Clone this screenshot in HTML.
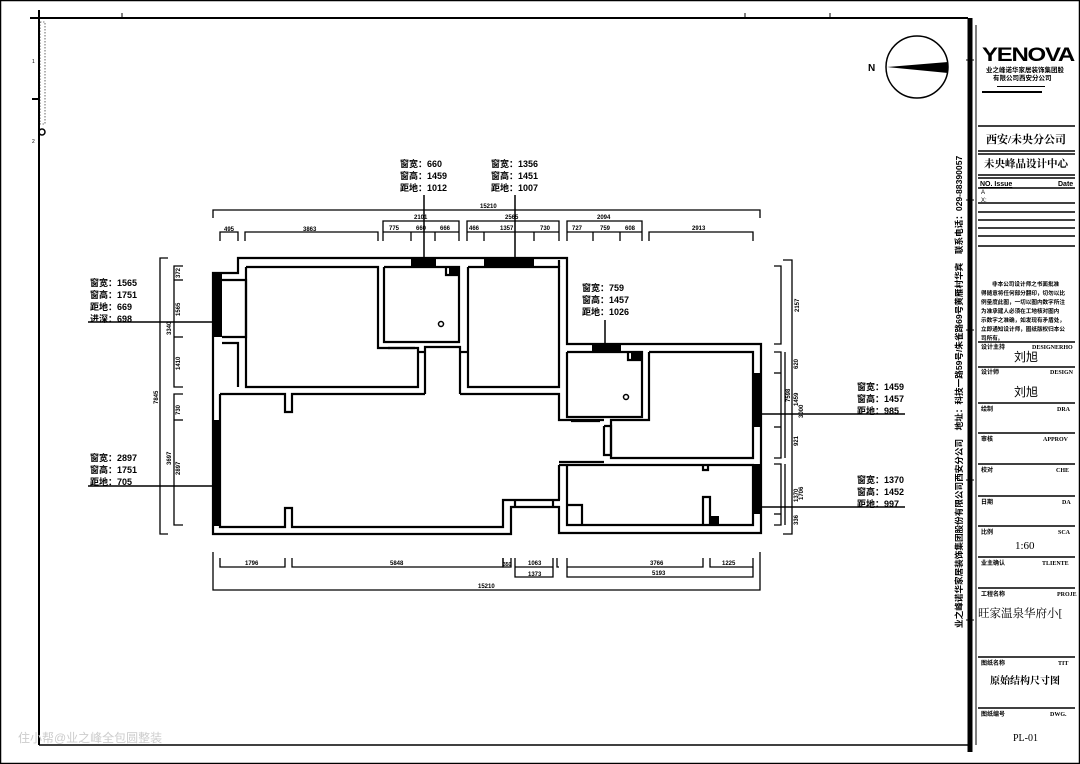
<!DOCTYPE html>
<html><head><meta charset="utf-8"><style>
body{margin:0;background:#fff}
svg{display:block}
text{font-family:"Liberation Sans","Noto Sans CJK SC",sans-serif;fill:#000}
.s{font-family:"Liberation Serif","Noto Serif CJK SC",serif}
</style></head><body>
<svg width="1080" height="764" viewBox="0 0 1080 764" xmlns="http://www.w3.org/2000/svg">
<rect x="0.5" y="0.5" width="1079" height="763" fill="#fff" stroke="#000" stroke-width="1.5"/>
<g stroke="#000" fill="none">
<line x1="30" y1="18" x2="968" y2="18" stroke-width="2"/>
<line x1="39" y1="10" x2="39" y2="745" stroke-width="2"/>
<line x1="39" y1="745" x2="968" y2="745" stroke-width="1.5"/>
<line x1="970" y1="18" x2="970" y2="752" stroke-width="5"/>
<line x1="976" y1="25" x2="976" y2="745" stroke-width="1"/>
<line x1="32" y1="99" x2="39" y2="99" stroke-width="2"/>
<circle cx="42" cy="132" r="3" stroke-width="1.5"/>
<line x1="122" y1="13" x2="122" y2="18"/><line x1="745" y1="13" x2="745" y2="18"/><line x1="830" y1="13" x2="830" y2="18"/>
<line x1="966" y1="60" x2="974" y2="60"/><line x1="966" y1="200" x2="974" y2="200"/><line x1="966" y1="330" x2="974" y2="330"/><line x1="966" y1="480" x2="974" y2="480"/><line x1="966" y1="620" x2="974" y2="620"/>
</g>
<rect x="40" y="22" width="5" height="102" fill="none" stroke="#000" stroke-width="0.6" stroke-dasharray="1.5 1.5"/>
<text x="32" y="63" font-size="5">1</text><text x="32" y="143" font-size="5">2</text>
<circle cx="917" cy="67" r="31" fill="none" stroke="#000" stroke-width="1.5"/>
<polygon points="887,67 948,62 948,73" fill="#000"/>
<text x="868" y="71" font-size="10" font-weight="bold">N</text>

<g fill="none" stroke="#000" stroke-width="2.2">
<polyline points="567,260 567,258 238,258 238,273 213,273 213,534 511,534 511,507 559,507 559,533 761,533 761,344 567,344 567,260"/>
<polyline points="222,280 246,280 246,337 222,337"/>
<polyline points="222,343 238,343 238,387"/>
<polyline points="246,267 378,267 378,348 418,348 418,387 246,387 246,267"/>
<polyline points="384,267 459,267 459,342 384,342 384,267"/>
<polyline points="388,348 415,348"/>
<polyline points="425,394 425,347 460,347 460,394"/>
<polyline points="419,352 425,352"/><polyline points="460,352 468,352"/>
<polyline points="468,267 559,267 559,387 468,387 468,267"/>
<polyline points="559,260 559,267"/>
<polyline points="220,394 220,527 285,527 285,508 292,508 292,527 503,527 503,500 560,500"/>
<polyline points="220,394 285,394 285,412 292,412 292,394 425,394"/>
<polyline points="460,394 559,394 559,420 604,420"/>
<polyline points="515,500 515,507"/><polyline points="553,500 553,507"/>
<polyline points="559,465 559,500"/>
<polyline points="567,352 642,352 642,417 567,417 567,352"/>
<polyline points="571,421 600,421"/>
<polyline points="604,426 604,455 611,455 611,426 604,426"/>
<polyline points="649,352 753,352 753,458 611,458 611,420 649,420 649,352"/>
<polyline points="559,465 753,465 753,525 567,525 567,465"/>
<polyline points="559,462 604,462"/>
<polyline points="567,505 582,505 582,525"/>
<polyline points="703,465 703,470 708,470 708,465"/>
<polyline points="703,525 703,497 710,497 710,525"/>
<polyline points="446,267 446,275 459,275"/>
<polyline points="628,352 628,360 642,360"/>
</g>
<g fill="#000">
<rect x="449" y="267" width="10" height="7"/>
<rect x="631" y="352" width="11" height="7"/>
<rect x="710" y="516" width="9" height="9"/>
<rect x="213" y="273" width="9" height="64"/>
<rect x="213" y="420" width="8" height="106"/>
<rect x="411" y="258" width="25" height="9"/>
<rect x="484" y="258" width="50" height="9"/>
<rect x="592" y="344" width="29" height="8"/>
<rect x="753" y="373" width="8" height="54"/>
<rect x="753" y="464" width="8" height="50"/>
</g>
<circle cx="441" cy="324" r="2.5" fill="none" stroke="#000" stroke-width="1.5"/>
<circle cx="626" cy="397" r="2.5" fill="none" stroke="#000" stroke-width="1.5"/>

<g stroke="#000" stroke-width="1.5" fill="none">
<line x1="424" y1="195" x2="424" y2="258"/>
<line x1="515" y1="195" x2="515" y2="258"/>
<line x1="605" y1="320" x2="605" y2="344"/>
<line x1="88" y1="322" x2="213" y2="322"/>
<line x1="88" y1="486" x2="213" y2="486"/>
<line x1="761" y1="414" x2="905" y2="414"/>
<line x1="761" y1="507" x2="905" y2="507"/>
</g>
<g font-size="9" font-weight="bold">
<text x="400" y="167">窗宽：660</text><text x="400" y="179">窗高：1459</text><text x="400" y="191">距地：1012</text>
<text x="491" y="167">窗宽：1356</text><text x="491" y="179">窗高：1451</text><text x="491" y="191">距地：1007</text>
<text x="582" y="291">窗宽：759</text><text x="582" y="303">窗高：1457</text><text x="582" y="315">距地：1026</text>
<text x="90" y="286">窗宽：1565</text><text x="90" y="298">窗高：1751</text><text x="90" y="310">距地：669</text><text x="90" y="322">进深：698</text>
<text x="90" y="461">窗宽：2897</text><text x="90" y="473">窗高：1751</text><text x="90" y="485">距地：705</text>
<text x="857" y="390">窗宽：1459</text><text x="857" y="402">窗高：1457</text><text x="857" y="414">距地：985</text>
<text x="857" y="483">窗宽：1370</text><text x="857" y="495">窗高：1452</text><text x="857" y="507">距地：997</text>
</g>

<g stroke="#000" stroke-width="1.3" fill="none">
<polyline points="213,218 213,210 760,210 760,218"/>
<polyline points="220,241 220,232 238,232 238,241"/>
<polyline points="245,241 245,232 378,232 378,241"/>
<polyline points="383,241 383,221 459,221 459,241"/><polyline points="383,232 459,232"/>
<line x1="411" y1="232" x2="411" y2="241"/><line x1="435" y1="232" x2="435" y2="241"/>
<polyline points="467,241 467,221 559,221 559,241"/><polyline points="467,232 559,232"/>
<line x1="484" y1="232" x2="484" y2="241"/><line x1="534" y1="232" x2="534" y2="241"/>
<polyline points="567,241 567,221 642,221 642,241"/><polyline points="567,232 642,232"/>
<line x1="593" y1="232" x2="593" y2="241"/><line x1="620" y1="232" x2="620" y2="241"/>
<polyline points="649,241 649,232 753,232 753,241"/>
<polyline points="213,552 213,590 760,590 760,552"/>
<polyline points="220,558 220,567 285,567 285,558"/>
<polyline points="292,558 292,567 503,567 503,558"/>
<polyline points="503,558 503,567 511,567 511,558"/>
<polyline points="515,558 515,577 553,577 553,558"/><polyline points="515,567 553,567"/>
<polyline points="557,558 557,567 559,567"/>
<polyline points="567,558 567,577 753,577 753,558"/><polyline points="567,567 703,567 703,558"/>
<polyline points="710,558 710,567 753,567"/>
<polyline points="168,258 160,258 160,534 168,534"/>
<polyline points="183,266 174,266 174,387 183,387"/>
<line x1="174" y1="280" x2="183" y2="280"/><line x1="174" y1="337" x2="183" y2="337"/>
<polyline points="183,394 174,394 174,525 183,525"/>
<line x1="174" y1="420" x2="183" y2="420"/>
<polyline points="783,260 792,260 792,534 783,534"/>
<polyline points="774,266 781,266 781,344 774,344"/>
<polyline points="774,352 781,352 781,458 774,458"/><polyline points="785,352 785,458"/>
<line x1="774" y1="373" x2="781" y2="373"/><line x1="774" y1="427" x2="781" y2="427"/>
<polyline points="774,464 781,464 781,525 774,525"/><polyline points="785,464 785,525"/>
<line x1="774" y1="514" x2="781" y2="514"/>
</g>
<g font-size="6" font-weight="bold">
<text x="480" y="208">15210</text>
<text x="224" y="231">495</text><text x="303" y="231">3863</text>
<text x="414" y="219">2101</text><text x="389" y="230">775</text><text x="416" y="230">660</text><text x="440" y="230">666</text>
<text x="505" y="219">2565</text><text x="469" y="230">466</text><text x="500" y="230">1357</text><text x="540" y="230">730</text>
<text x="597" y="219">2094</text><text x="572" y="230">727</text><text x="600" y="230">759</text><text x="625" y="230">608</text>
<text x="692" y="230">2913</text>
<text x="245" y="565">1796</text><text x="390" y="565">5848</text><text x="503" y="566" font-size="5">350</text><text x="528" y="565">1063</text>
<text x="528" y="576">1373</text><text x="650" y="565">3766</text><text x="722" y="565">1225</text><text x="652" y="575">5193</text>
<text x="478" y="588">15210</text>
</g>
<g font-size="6" font-weight="bold">
<text transform="translate(158,404) rotate(-90)">7845</text>
<text transform="translate(171,335) rotate(-90)">3340</text>
<text transform="translate(180,278) rotate(-90)">372</text>
<text transform="translate(180,316) rotate(-90)">1565</text>
<text transform="translate(180,370) rotate(-90)">1410</text>
<text transform="translate(180,415) rotate(-90)">730</text>
<text transform="translate(171,465) rotate(-90)">3697</text>
<text transform="translate(180,475) rotate(-90)">2897</text>
<text transform="translate(799,312) rotate(-90)">2157</text>
<text transform="translate(790,402) rotate(-90)">7598</text>
<text transform="translate(798,369) rotate(-90)">620</text>
<text transform="translate(798,406) rotate(-90)">1459</text>
<text transform="translate(803,418) rotate(-90)">3000</text>
<text transform="translate(798,446) rotate(-90)">921</text>
<text transform="translate(798,502) rotate(-90)">1370</text>
<text transform="translate(803,500) rotate(-90)">1706</text>
<text transform="translate(798,525) rotate(-90)">336</text>
</g>

<text transform="translate(962,628) rotate(-90)" font-size="8.6" font-weight="bold">业之峰诺华家居装饰集团股份有限公司西安分公司　地址：科技一路59号/朱雀路69号黄雁村华宾　联系电话：029-88390057</text>

<text x="982" y="61" font-size="19" font-weight="bold" letter-spacing="-1" textLength="92" lengthAdjust="spacingAndGlyphs">YENOVA</text>
<text x="986" y="72" font-size="6.5" font-weight="bold">业之峰诺华家居装饰集团股</text>
<text x="993" y="80" font-size="6.5" font-weight="bold">有限公司西安分公司</text>
<rect x="997" y="86" width="48" height="1" fill="#000"/>
<rect x="982" y="91" width="60" height="2" fill="#000"/>
<g stroke="#000" stroke-width="1.5">
<line x1="978" y1="126" x2="1075" y2="126"/>
<line x1="978" y1="151" x2="1075" y2="151"/>
<line x1="978" y1="154" x2="1075" y2="154"/>
<line x1="978" y1="175" x2="1075" y2="175"/>
<line x1="978" y1="178" x2="1075" y2="178"/>
<line x1="978" y1="188" x2="1075" y2="188"/>
<line x1="978" y1="203" x2="1075" y2="203"/>
<line x1="978" y1="212" x2="1075" y2="212"/>
<line x1="978" y1="220" x2="1075" y2="220"/>
<line x1="978" y1="228" x2="1075" y2="228"/>
<line x1="978" y1="236" x2="1075" y2="236"/>
<line x1="978" y1="246" x2="1075" y2="246"/>
<line x1="978" y1="342" x2="1075" y2="342"/>
<line x1="978" y1="367" x2="1075" y2="367"/>
<line x1="978" y1="403" x2="1075" y2="403"/>
<line x1="978" y1="433" x2="1075" y2="433"/>
<line x1="978" y1="464" x2="1075" y2="464"/>
<line x1="978" y1="496" x2="1075" y2="496"/>
<line x1="978" y1="526" x2="1075" y2="526"/>
<line x1="978" y1="557" x2="1075" y2="557"/>
<line x1="978" y1="588" x2="1075" y2="588"/>
<line x1="978" y1="657" x2="1075" y2="657"/>
<line x1="978" y1="708" x2="1075" y2="708"/>
</g>
<text class="s" x="986" y="143" font-size="11" font-weight="bold">西安/未央分公司</text>
<text class="s" x="984" y="167" font-size="10.5" font-weight="bold">未央峰品设计中心</text>
<text x="980" y="186" font-size="7" font-weight="bold" text-decoration="underline">NO.    Issue</text>
<text x="1058" y="186" font-size="7" font-weight="bold">Date</text>
<text x="981" y="194" font-size="6">A</text><text x="981" y="202" font-size="6">X:</text>
<g font-size="5.6" font-weight="bold">
<text x="992" y="286">非本公司设计师之书面批准</text>
<text x="981" y="295">得随意将任何部分翻印，切勿以比</text>
<text x="981" y="304">例量度此图，一切以图内数字所注</text>
<text x="981" y="313">为准承建人必须在工地核对图内</text>
<text x="981" y="322">示数字之准确，如发现有矛盾处，</text>
<text x="981" y="331">立即通知设计师，图纸版权归本公</text>
<text x="981" y="340">司所有。</text>
</g>
<g font-size="6" font-weight="bold">
<text x="981" y="349">设计主持</text><text class="s" x="1032" y="349">DESIGNERHO</text>
<text x="981" y="374">设计师</text><text class="s" x="1050" y="374">DESIGN</text>
<text x="981" y="411">绘制</text><text class="s" x="1057" y="411">DRA</text>
<text x="981" y="441">审核</text><text class="s" x="1043" y="441">APPROV</text>
<text x="981" y="472">校对</text><text class="s" x="1056" y="472">CHE</text>
<text x="981" y="504">日期</text><text class="s" x="1062" y="504">DA</text>
<text x="981" y="534">比例</text><text class="s" x="1058" y="534">SCA</text>
<text x="981" y="565">业主确认</text><text class="s" x="1042" y="565">TLIENTE</text>
<text x="981" y="596">工程名称</text><text class="s" x="1057" y="596">PROJE</text>
<text x="981" y="665">图纸名称</text><text class="s" x="1058" y="665">TIT</text>
<text x="981" y="716">图纸编号</text><text class="s" x="1050" y="716">DWG.</text>
</g>
<text x="1014" y="361" font-size="12">刘旭</text>
<text x="1014" y="396" font-size="12">刘旭</text>
<text class="s" x="1015" y="549" font-size="11">1:60</text>
<text class="s" x="978" y="617" font-size="11.5">旺家温泉华府小[</text>
<text class="s" x="990" y="684" font-size="10" font-weight="bold">原始结构尺寸图</text>
<text class="s" x="1013" y="741" font-size="10">PL-01</text>
<text x="18" y="742" font-size="12" style="fill:#ccc">住小帮@业之峰全包圆整装</text>
</svg>
</body></html>
